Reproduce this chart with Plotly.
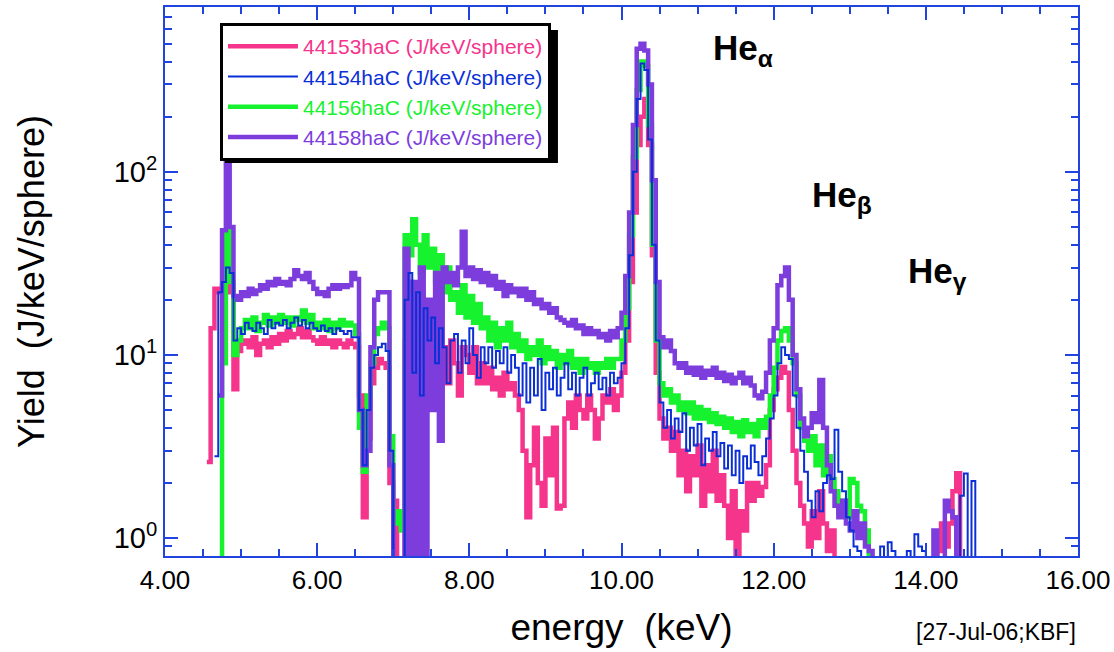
import plotly.graph_objects as go

N = None
# energy bins (keV), 0.05 keV channels from 4.50 to 14.95
energy = [round(4.50 + 0.05 * i, 2) for i in range(210)]

# rows of 10 values: 4.50-4.95, 5.00-5.45, ... 14.50-14.95
y_44153 = [
    N, 2.6, 14, 23, 22, 24, 26, 22, 6.5, 10.5,
    11.5, 12, 11, 12.5, 10, 11.5, 12, 11, 12.5, 11.5,
    13, 12, 13.5, 12.5, 13, 14, 12.5, 13.5, 12.5, 12,
    11.5, 12.5, 11.5, 12, 11, 12, 11.5, 11, 12, 11.5,
    11, 6, 1.3, 3.5, 7, 8.5, 9.5, 9, 8.5, 2,
    1.6, 0.3, 0.3, 12, 25, 20, 15, 22, 10, 18,
    12, 13, 8, 11, 7, 12, 9, 6, 11, 10,
    8, 11, 7, 9, 7, 8.5, 6.5, 7.5, 6, 8,
    6.5, 7, 6, 5, 3, 1.3, 2.5, 4, 2, 1.5,
    3.5, 2.2, 4, 1.45, 1.5, 4.5, 5.5, 4, 6, 5,
    4.5, 6, 5, 3.5, 4.5, 6, 5.5, 6.5, 5, 6,
    8, 12, 25, 60, 140, 200, 250, 140, 35, 8,
    4.5, 3.5, 4, 3, 3.8, 2.2, 3, 1.8, 2.8, 2.2,
    3.2, 1.5, 2.5, 1.8, 3, 1.6, 2.2, 1.5, 1.0, 1.8,
    0.8, 1.4, 1.1, 2.0, 1.6, 2.0, 1.7, 1.9, 2.5, 5,
    6.5, 7.5, 8.6, 8, 5, 3, 2, 1.5, 1.2, 0.9,
    1.4, 1.0, 1.8, 1.2, 0.85, 1.1, 0.3, N, N, N,
    N, N, N, N, N, N, N, N, N, N,
    N, N, N, N, N, N, N, N, N, N,
    N, N, 0.3, 0.85, 1.2, 0.9, 1.2, 1.8, 2.26, 0.3,
    N, N, N, N, N, N, N, N, N, N,
]

y_44154 = [
    N, N, N, 2.8, 22, 25, 30, 28, 12, 14,
    13, 15, 14, 13.5, 15, 14, 13, 15.5, 14, 15,
    14.5, 15.5, 14, 15, 16, 14.5, 15.5, 14, 15, 14,
    13.5, 14.5, 13.5, 14, 13, 14, 13.5, 13, 13.5, 12.5,
    12.5, 5, 2.5, 5, 8.5, 10, 11, 11.5, 10.5, 3,
    0.3, 0.3, 0.3, 20, 28, 8, 22, 6, 18, 12,
    16, 9, 14, 11, 7, 12, 13, 8, 12, 9,
    14, 10, 7.5, 11, 9, 11, 8.5, 10.5, 9, 11,
    8, 10, 8.5, 6, 9, 5.5, 8.5, 6, 9.5, 5,
    8, 6.5, 8.5, 6, 7.5, 9, 6.5, 8, 6, 7.5,
    8.5, 6, 7, 8, 6.5, 7.5, 6, 8, 7, 7.5,
    9, 14, 35, 100, 250, 390, 360, 150, 40, 12,
    5.5, 4, 5, 3.5, 4.5, 3.8, 4.8, 3, 4, 3.2,
    4.2, 2.5, 3.5, 3, 3.8, 2.8, 3.3, 2.4, 3.2, 2.2,
    3, 2, 2.8, 2.4, 3.2, 2.6, 2.2, 2.8, 3.5, 4.5,
    6, 9, 11, 10, 9.5, 6, 4, 3, 2.3, 1.6,
    1.3, 1.8, 1.4, 2.0, 2.2, 2.1, 3.9, 2.3, 1.8, 1.3,
    1.1, 0.9, 0.85, 0.3, 0.3, 0.3, 0.3, 0.3, 0.9, 0.3,
    0.95, 0.85, 0.3, 0.3, 0.3, 0.85, 0.3, 1.05, 0.9, 0.85,
    0.3, 0.3, 0.3, 0.3, 0.3, 0.3, 0.3, 0.3, 0.3, 1.7,
    2.25, 0.3, 2.05, 0.3, N, N, N, N, N, N,
]

y_44156 = [
    N, N, N, N, 0.3, 9, 48, 25, 10, 12,
    14, 15.5, 14, 16, 13.5, 15, 16.5, 14.5, 16, 15,
    16.5, 15, 16, 14.5, 16, 15.5, 17.5, 15, 16.5, 14,
    15, 14, 15.5, 13.5, 15, 14, 15.5, 14.5, 15, 14.5,
    13, 4, 2.3, 6, 9, 13, 14, 15, 14, 3.6,
    1.2, 1.4, 1.1, 45, 35, 55, 40, 28, 45, 30,
    38, 25, 35, 22, 30, 20, 22, 17, 24, 16,
    21, 15, 19, 14, 16, 12, 15, 11, 14, 12,
    15, 11, 13, 10.5, 12, 9.5, 11, 10, 12, 9,
    11, 9.5, 10.5, 8.5, 10, 9, 10.5, 8.5, 9.5, 8,
    9.5, 8.5, 9, 8, 9, 8.5, 9.5, 8.5, 9.5, 9.5,
    12, 18, 45, 120, 280, 400, 380, 180, 40, 12,
    7, 6, 6.5, 5.5, 6, 5, 5.5, 4.8, 5.5, 4.5,
    5.2, 4.5, 5, 4.3, 4.8, 4.2, 4.6, 4, 4.5, 3.8,
    4.3, 3.6, 4.4, 3.8, 4.2, 3.6, 4.4, 4, 4.6, 6,
    8.5, 12, 13.5, 14, 12, 9, 6, 4, 3.4, 3,
    3.6, 2.5, 3.2, 2.2, 2.8, 2.1, 1.8, 1.4, 1.6, 1.3,
    2.1, 2.0, 1.5, 1.4, 1.1, 0.3, N, N, N, N,
    N, N, N, N, N, N, N, N, N, N,
    N, N, N, N, N, N, N, N, N, N,
    N, N, N, N, N, N, N, N, N, N,
]

y_44158 = [
    N, N, N, N, 6, 48, 130, 50, 21, 20,
    22, 21, 23, 21.5, 22.5, 24, 23, 25, 24, 26,
    24.5, 25, 24, 26, 29, 27, 26, 28, 25, 23,
    21.5, 22, 21, 23, 24, 23, 24, 23.5, 24, 28,
    26, 5, 2.5, 3, 11, 20, 22, 22, 22, 2.5,
    0.3, 0.3, 0.3, 38, 0.3, 25, 0.3, 30, 0.3, 20,
    5, 28, 3.4, 30, 25, 28, 24, 30, 47, 27,
    30, 26, 29, 25, 28, 24, 27, 23, 25, 21,
    24, 22, 23, 21, 23, 20, 22, 19, 20, 18,
    19, 17, 18, 16, 15.5, 15, 14.5, 15.5, 14, 14.5,
    13, 14, 13, 13.5, 12.5, 13, 12, 13.5, 12.5, 14,
    17, 27, 60, 180, 470, 500, 460, 300, 90, 25,
    12.5, 11, 12, 10.5, 9, 8.5, 9, 8, 8.5, 7.8,
    8.5, 7.5, 8.2, 7.8, 8.5, 7.5, 8, 7.2, 7.8, 7,
    7.5, 8, 7, 7.5, 6.8, 6, 5.8, 6.3, 8, 12,
    14, 24, 27, 30, 20, 10, 6.5, 4.5, 3.6, 4,
    4.8, 4.3, 7.3, 4, 2.5, 1.8, 1.5, 1.3, 1.6, 1.2,
    1.1, 1.4, 1.0, 1.2, 0.9, 0.85, 0.3, N, N, N,
    N, N, N, N, N, N, N, N, N, N,
    N, 0.3, 1.1, 0.3, 0.3, 1.6, 1.4, 1.3, 0.3, N,
    N, N, N, N, N, N, N, N, N, N,
]

series_names = ["44153haC (J/keV/sphere)", "44154haC (J/keV/sphere)",
                "44156haC (J/keV/sphere)", "44158haC (J/keV/sphere)"]
x_ticks = [4, 6, 8, 10, 12, 14, 16]
x_tick_labels = ["4.00", "6.00", "8.00", "10.00", "12.00", "14.00", "16.00"]
x_minor = [4.5, 5, 5.5, 6.5, 7, 7.5, 8.5, 9, 9.5, 10.5, 11, 11.5, 12.5, 13, 13.5, 14.5, 15, 15.5]
y_ticks = [1, 10, 100]
y_tick_labels = ["10<sup>0</sup>", "10<sup>1</sup>", "10<sup>2</sup>"]
y_minor = [0.8, 0.9, 2, 3, 4, 5, 6, 7, 8, 9, 20, 30, 40, 50, 60, 70, 80, 90, 200, 300, 400, 500, 600, 700]

PINK, BLUE, GREEN, PURPLE = "#f5348c", "#0b2fd6", "#17f22e", "#7d3ddd"
AXIS = "#2143e0"
FONT = "Liberation Sans, Arial, Helvetica, sans-serif"

fig = go.Figure()
traces = [
    (y_44153, series_names[0], PINK, 4.5, 1),
    (y_44156, series_names[2], GREEN, 4.5, 3),
    (y_44158, series_names[3], PURPLE, 4.5, 4),
    (y_44154, series_names[1], BLUE, 2, 2),
]
for yv, nm, col, w, rank in traces:
    fig.add_trace(go.Scatter(
        x=energy, y=yv, mode="lines", connectgaps=False,
        line=dict(color=col, width=w, shape="hv"),
        name='<span style="color:%s">%s</span>' % (col, nm),
        legendrank=rank,
    ))

axis_common = dict(
    showline=True, linecolor=AXIS, linewidth=2, mirror="allticks",
    ticks="inside", ticklen=13, tickwidth=2, tickcolor=AXIS,
    showgrid=False, zeroline=False,
)
fig.update_xaxes(
    range=[4, 16], tickmode="array", tickvals=x_ticks, ticktext=x_tick_labels,
    tickfont=dict(size=26, color="black", family=FONT),
    minor=dict(tickmode="array", tickvals=x_minor, ticks="inside", ticklen=7, tickwidth=1.5, tickcolor=AXIS),
    title=dict(text="energy\u00a0\u00a0(keV)", font=dict(size=37, color="black", family=FONT), standoff=20),
    **axis_common,
)
fig.update_yaxes(
    type="log", range=[-0.098, 2.9], tickmode="array", tickvals=y_ticks, ticktext=y_tick_labels,
    tickfont=dict(size=29, color="black", family=FONT),
    minor=dict(tickmode="array", tickvals=y_minor, ticks="inside", ticklen=7, tickwidth=1.5, tickcolor=AXIS),
    title=dict(text="Yield\u00a0\u00a0(J/keV/sphere)", font=dict(size=36, color="black", family=FONT), standoff=58),
    **axis_common,
)

fig.update_layout(
    width=1114, height=652,
    margin=dict(l=165, r=36, t=7, b=96, autoexpand=False),
    paper_bgcolor="white", plot_bgcolor="white",
    font=dict(family=FONT, color="black"),
    showlegend=True,
    legend=dict(x=0.0602, y=0.9709, xanchor="left", yanchor="top",
                bgcolor="white", bordercolor="black", borderwidth=3,
                font=dict(size=21, family=FONT), tracegroupgap=0, itemwidth=70),
    shapes=[dict(type="rect", xref="paper", yref="paper", layer="above",
                 x0=0.0657, x1=0.4304, y0=0.7158, y1=0.9581,
                 fillcolor="black", line=dict(width=0))],
    annotations=[
        dict(x=11.18, y=2.666, xref="x", yref="y", text="<b>He<sub>α</sub></b>", showarrow=False,
             xanchor="left", yanchor="middle", font=dict(size=35, color="black", family=FONT)),
        dict(x=12.48, y=1.863, xref="x", yref="y", text="<b>He<sub>β</sub></b>", showarrow=False,
             xanchor="left", yanchor="middle", font=dict(size=35, color="black", family=FONT)),
        dict(x=13.74, y=1.448, xref="x", yref="y", text="<b>He<sub>γ</sub></b>", showarrow=False,
             xanchor="left", yanchor="middle", font=dict(size=35, color="black", family=FONT)),
        dict(x=1.0, y=-0.138, xref="paper", yref="paper", text="[27-Jul-06;KBF]", showarrow=False,
             xanchor="right", yanchor="middle", font=dict(size=23, color="black", family=FONT)),
    ],
)

fig.write_html("out.html")
